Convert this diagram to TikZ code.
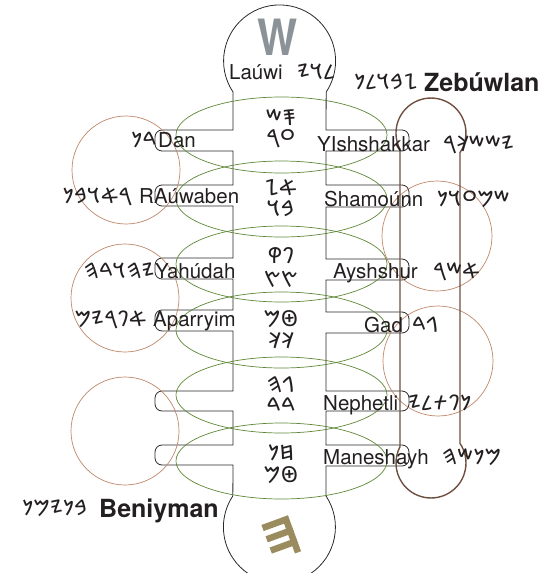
\documentclass[tikz,border=0pt]{standalone}
\usepackage{fontspec}
\setmainfont{TeX Gyre Heros}
\IfFontExistsTF{Noto Sans Phoenician}{\newfontfamily\phx{Noto Sans Phoenician}}{\newfontfamily\phx{DejaVu Sans}}
\definecolor{combc}{RGB}{40,40,40}
\definecolor{grn}{RGB}{95,135,55}
\definecolor{rng}{RGB}{190,135,105}
\definecolor{capc}{RGB}{110,78,62}
\definecolor{txt}{RGB}{35,31,32}
\definecolor{wgray}{RGB}{140,147,152}
\definecolor{khaki}{RGB}{155,140,95}
\begin{document}
\begin{tikzpicture}[x=1pt,y=-1pt,
  nm/.style={anchor=base west,inner sep=0pt,text=txt,font=\fontsize{20.5}{24}\selectfont},
  bnm/.style={anchor=base west,inner sep=0pt,text=txt,font=\fontsize{25}{30}\selectfont\bfseries},
  phr/.style={anchor=base west,inner sep=0pt,text=txt,font=\fontsize{21.5}{24}\phx},
  phl/.style={anchor=base east,inner sep=0pt,text=txt,font=\fontsize{21.5}{24}\phx},
  cp/.style={inner sep=0pt,text=txt,font=\fontsize{22}{24}\phx},
  comb/.style={draw=combc,line width=0.8pt},
  ell/.style={draw=grn,line width=0.7pt},
  ring/.style={draw=rng,line width=0.7pt},
  caps/.style={draw=capc,line width=1.4pt}]
\useasboundingbox (0,0) rectangle (552,573);
\clip (0,0) rectangle (552,573);

% central comb outline
\draw[comb] (233,92) arc[start angle=146.3,end angle=393.7,radius=56]
  -- (326,130) -- (402,130) arc[start angle=-90,end angle=0,radius=7] -- (409,144) arc[start angle=0,end angle=90,radius=7] -- (326,151)
  -- (326,185) -- (402,185) arc[start angle=-90,end angle=0,radius=7] -- (409,200) arc[start angle=0,end angle=90,radius=7] -- (326,207)
  -- (326,259) -- (402,259) arc[start angle=-90,end angle=0,radius=7] -- (409,273) arc[start angle=0,end angle=90,radius=7] -- (326,280)
  -- (326,312) -- (402,312) arc[start angle=-90,end angle=0,radius=7] -- (409,326) arc[start angle=0,end angle=90,radius=7] -- (326,333)
  -- (326,391) -- (402,391) arc[start angle=-90,end angle=0,radius=7] -- (409,404) arc[start angle=0,end angle=90,radius=7] -- (326,411)
  -- (326,445) -- (402,445) arc[start angle=-90,end angle=0,radius=7] -- (409,459) arc[start angle=0,end angle=90,radius=7] -- (326,466)
  -- (326,496) arc[start angle=-33.7,end angle=213.7,radius=56]
  -- (233,465) -- (162,465) arc[start angle=90,end angle=180,radius=7] -- (155,452) arc[start angle=180,end angle=270,radius=7] -- (233,445)
  -- (233,411) -- (162,411) arc[start angle=90,end angle=180,radius=7] -- (155,398) arc[start angle=180,end angle=270,radius=7] -- (233,391)
  -- (233,331) -- (162,331) arc[start angle=90,end angle=180,radius=7] -- (155,317) arc[start angle=180,end angle=270,radius=7] -- (233,310)
  -- (233,279) -- (162,279) arc[start angle=90,end angle=180,radius=7] -- (155,265) arc[start angle=180,end angle=270,radius=7] -- (233,258)
  -- (233,206) -- (162,206) arc[start angle=90,end angle=180,radius=7] -- (155,192) arc[start angle=180,end angle=270,radius=7] -- (233,185)
  -- (233,151) -- (162,151) arc[start angle=90,end angle=180,radius=7] -- (155,137) arc[start angle=180,end angle=270,radius=7] -- (233,130)
  -- cycle;

% green ellipses
\foreach \cy in {135,199,264,330,395,461}
  \draw[ell] (281.5,\cy) ellipse[x radius=105.5,y radius=38];

% brown rings
\draw[ring] (126,170) circle[radius=54];
\draw[ring] (125,298) circle[radius=54];
\draw[ring] (125,431) circle[radius=54];
\draw[ring] (437,236) circle[radius=55];
\draw[ring] (438,361) circle[radius=55];

% right capsule
\draw[caps] (400,149.3) arc[start angle=152.3,end angle=394,radius=35]
  -- (460,443.4) arc[start angle=-34,end angle=207.7,radius=35] -- cycle;

% big letters
\node[font=\fontsize{50}{50}\selectfont\bfseries,text=wgray,xscale=0.85,inner sep=0pt] (bigW) at (277.5,37) {W};
\begin{scope}[shift={(291.5,534.5)},rotate=20,draw=khaki,line width=6.5pt]
  \draw (0,-19) -- (0,19);
  \draw (-25,-16) -- (3,-16);
  \draw (-25,-4) -- (3,-4);
  \draw (-25,8) -- (3,8);
\end{scope}

% names
\node[nm] (n1) at (229,79) {Laúwi};
\node[phr] (p1) at (297,79) {𐤋𐤅𐤉};
\node[bnm] (n2) at (424,91) {Zebúwlan};
\node[phl] (p2) at (418,89) {𐤆𐤁𐤅𐤋𐤍};
\node[nm] (n3) at (158,147) {Dan};
\node[phl] (p3) at (157,147) {𐤃𐤍};
\node[nm] (n4) at (139,203) {RAúwaben};
\node[phl] (p4) at (132,203) {𐤓𐤀𐤅𐤁𐤍};
\node[nm] (n5) at (155,278) {Yahúdah};
\node[phl] (p5) at (155,278) {𐤉𐤄𐤅𐤃𐤄};
\node[nm] (n6) at (153,326) {Aparryim};
\node[phl] (p6) at (147,326) {𐤀𐤐𐤓𐤉𐤌};
\node[nm] (n7) at (317,151) {YIshshakkar};
\node[phr] (p7) at (443,151) {𐤉𐤔𐤔𐤊𐤓};
\node[nm] (n8) at (324,206) {Shamoúnn};
\node[phr] (p8) at (437,206) {𐤔𐤌𐤏𐤅𐤍};
\node[nm] (n9) at (333,278) {Ayshshur};
\node[phr] (p9) at (433,278) {𐤀𐤔𐤓};
\node[nm] (n10) at (364,332) {Gad};
\node[phr] (p10) at (412,332) {𐤂𐤃};
\node[nm] (n11) at (323,410) {Nephetli};
\node[phr] (p11) at (408,410) {𐤍𐤐𐤕𐤋𐤉};
\node[nm] (n12) at (323,464) {Maneshayh};
\node[phr] (p12) at (442,464) {𐤌𐤍𐤔𐤄};
\node[bnm] (n13) at (99,517) {Beniyman};
\node[phl] (p13) at (88,515) {𐤁𐤍𐤉𐤌𐤍};

% central pairs
\node[cp] (c1a) at (281,117) {𐤎𐤔};
\node[cp] (c1b) at (281,139) {𐤏𐤓};
\node[cp] (c2a) at (281,187.5) {𐤀𐤆};
\node[cp] (c2b) at (281,208.5) {𐤁𐤅};
\node[cp] (c3a) at (281,256) {𐤐𐤒};
\node[cp] (c3b) at (281,279) {𐤑𐤑};
\node[cp] (c4a) at (281,319.5) {𐤈𐤌};
\node[cp] (c4b) at (281,340.5) {𐤊𐤊};
\node[cp] (c5a) at (281,384.5) {𐤂𐤄};
\node[cp] (c5b) at (281,405.5) {𐤃𐤃};
\node[cp] (c6a) at (281,453) {𐤇𐤍};
\node[cp] (c6b) at (281,475) {𐤈𐤌};
\end{tikzpicture}
\end{document}
